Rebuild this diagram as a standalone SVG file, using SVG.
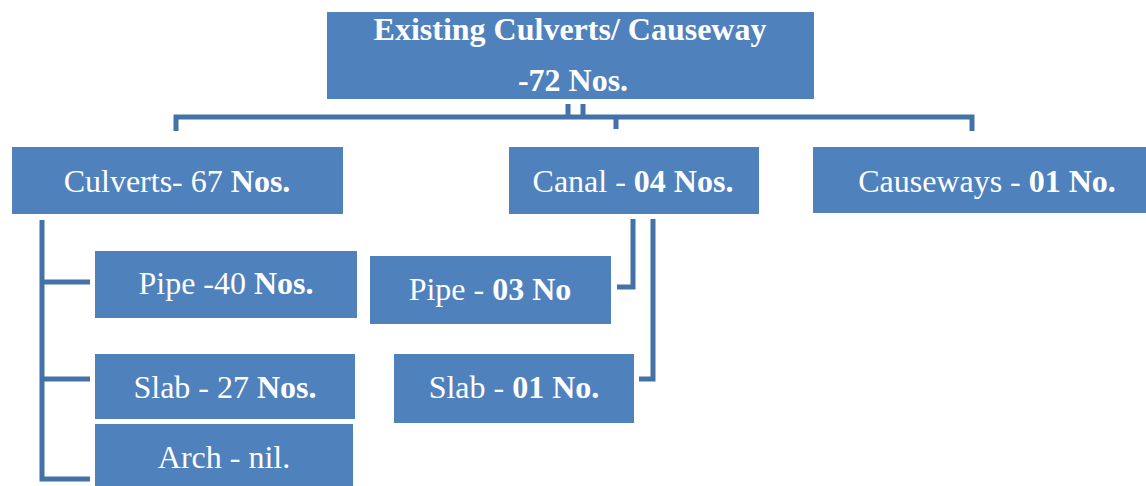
<svg xmlns="http://www.w3.org/2000/svg" width="1146" height="486" viewBox="0 0 1146 486">
<style>
.box{fill:#4F81BD;}
.t{font-family:"Liberation Serif","Times New Roman",serif;font-size:32px;fill:#FFFFFF;text-anchor:middle;}
.b{font-weight:bold;}
.c{fill:none;stroke:#4472A8;stroke-width:5;}
</style>
<rect width="1146" height="486" fill="#FFFFFF"/>
<g id="connectors">
<path class="c" d="M176 131V117H972V131"/>
<path class="c" d="M568 104V117M583 104V117M616 117V129"/>
<path class="c" d="M42 220V479H90M42 282H90M42 379H90"/>
<path class="c" d="M617 287H633V219"/>
<path class="c" d="M639 379H653V219"/>
</g>
<g id="root">
<rect class="box" x="327" y="12" width="487" height="87"/>
<text class="t b" x="570" y="40">Existing Culverts/ Causeway</text>
<text class="t b" x="573" y="91">-72 Nos.</text>
</g>
<g id="culverts">
<rect class="box" x="12" y="147" width="331" height="67"/>
<text class="t" x="177" y="192">Culverts- 67 <tspan class="b">Nos.</tspan></text>
</g>
<g id="canal">
<rect class="box" x="509" y="147" width="250" height="67"/>
<text class="t" x="633" y="192">Canal - <tspan class="b">04 Nos.</tspan></text>
</g>
<g id="causeways">
<rect class="box" x="813" y="147" width="340" height="66"/>
<text class="t" x="987" y="192">Causeways - <tspan class="b">01 No.</tspan></text>
</g>
<g id="pipe40">
<rect class="box" x="95" y="251" width="262" height="67"/>
<text class="t" x="226" y="294">Pipe -40 <tspan class="b">Nos.</tspan></text>
</g>
<g id="slab27">
<rect class="box" x="95" y="354" width="260" height="65"/>
<text class="t" x="225" y="398">Slab - 27 <tspan class="b">Nos.</tspan></text>
</g>
<g id="arch">
<rect class="box" x="95" y="424" width="258" height="64"/>
<text class="t" x="224" y="468">Arch - nil.</text>
</g>
<g id="pipe03">
<rect class="box" x="370" y="256" width="241" height="68"/>
<text class="t" x="490" y="300">Pipe - <tspan class="b">03 No</tspan></text>
</g>
<g id="slab01">
<rect class="box" x="394" y="354" width="240" height="69"/>
<text class="t" x="514" y="398">Slab - <tspan class="b">01 No.</tspan></text>
</g>
</svg>
